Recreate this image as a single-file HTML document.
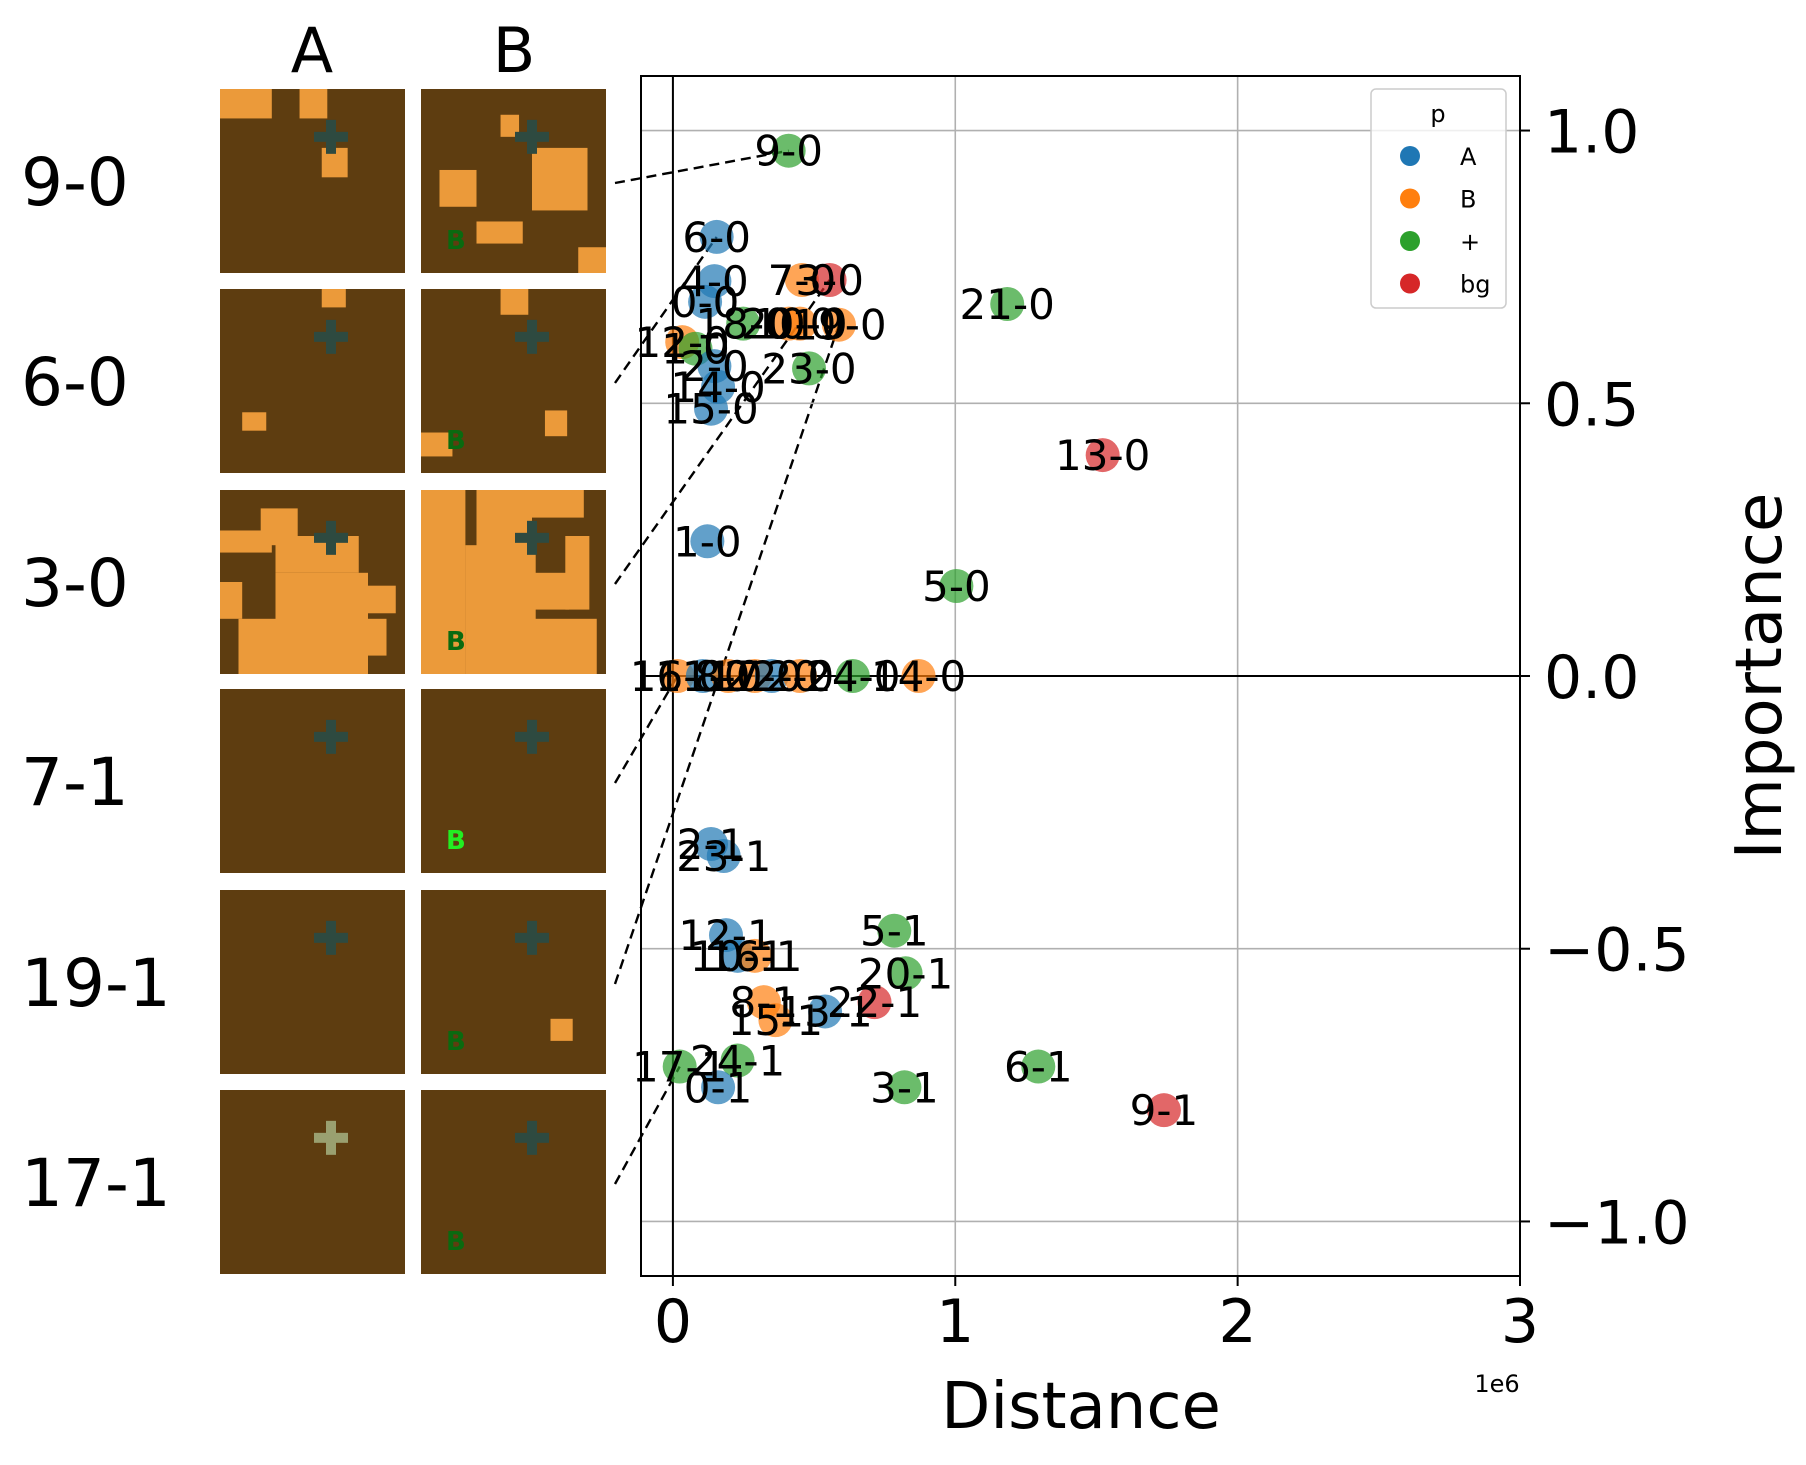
<!DOCTYPE html>
<html><head><meta charset="utf-8"><style>
body{margin:0;background:#fff;}
svg text{font-family:"DejaVu Sans","Liberation Sans",sans-serif;}
</style></head><body>
<svg id="fig" width="1806" height="1460" viewBox="0 0 1806 1460" xmlns="http://www.w3.org/2000/svg">
<rect width="1806" height="1460" fill="#fff"/>
<g id="thumbs"></g>
<g id="links"></g>
<g id="plot"></g>
</svg>
<script>
const NS="http://www.w3.org/2000/svg";
const categories=["A","B","+","bg"];
const colors=["#1f77b4","#ff7f0e","#2ca02c","#d62728"];
const labels=["9-0","6-0","4-0","7-0","3-0","0-0","18-0","20-0","10-0","19-0","21-0","12-0","1-0b","2-0","23-0","14-0","15-0","13-0","1-0","5-0","16-0","11-0","8-0","17-0","22-0","24-0","2-0b","14-0b","2-1","23-1","12-1","5-1","10-1","16-1","20-1","8-1","13-1","22-1","15-1","17-1","24-1","0-1","3-1","6-1","9-1"];
const xVals=[0.41,0.155,0.147,0.457,0.555,0.114,0.249,0.41,0.45,0.588,1.184,0.033,0.08,0.147,0.482,0.16,0.135,1.522,0.122,1.004,0.016,0.106,0.196,0.29,0.35,0.637,0.45,0.87,0.135,0.18,0.188,0.784,0.229,0.29,0.824,0.322,0.539,0.714,0.363,0.024,0.229,0.16,0.82,1.294,1.739];
const yVals=[0.963,0.805,0.724,0.726,0.726,0.686,0.646,0.646,0.646,0.644,0.682,0.612,0.60,0.568,0.564,0.53,0.49,0.405,0.247,0.165,0,0,0,0,0,0,0,0,-0.308,-0.33,-0.475,-0.467,-0.513,-0.513,-0.545,-0.598,-0.615,-0.598,-0.631,-0.716,-0.705,-0.754,-0.754,-0.716,-0.796];
const groups=[2,0,0,1,3,0,2,1,1,1,2,1,2,0,2,0,0,3,0,2,1,0,1,1,0,2,1,1,0,0,0,2,0,1,2,1,0,3,1,2,2,0,2,2,3];
const xTicks=[0,1,2,3];
const yTicks=[1.0,0.5,0.0,-0.5,-1.0];
const yTickLabels=["1.0","0.5","0.0","\u22120.5","\u22121.0"];
const rowLabels=["9-0","6-0","3-0","7-1","19-1","17-1"];
const rowTargets=["9-0","6-0","3-0","16-0","19-0","17-1"];

const L=641,R=1520,T=76,B=1276;
const xMin=-0.113,xMax=3,yMin=-1.1,yMax=1.1;
const sx=v=>L+(v-xMin)/(xMax-xMin)*(R-L);
const sy=v=>B-(v-yMin)/(yMax-yMin)*(B-T);
function mk(tag,attrs,parent){const e=document.createElementNS(NS,tag);for(const k in attrs)e.setAttribute(k,attrs[k]);parent.appendChild(e);return e;}
const plot=document.getElementById('plot');
xTicks.forEach(t=>{const l=mk('line',{x1:sx(t),x2:sx(t),y1:T,y2:B,stroke:'#b0b0b0','stroke-width':1.6},plot);
});
yTicks.forEach(t=>{const l=mk('line',{x1:L,x2:R,y1:sy(t),y2:sy(t),stroke:'#b0b0b0','stroke-width':1.6},plot);
});
let z=mk('line',{x1:sx(0),x2:sx(0),y1:T,y2:B,stroke:'#000','stroke-width':2},plot);

z=mk('line',{x1:L,x2:R,y1:sy(0),y2:sy(0),stroke:'#000','stroke-width':2},plot);

labels.forEach((lab,i)=>{const c=mk('circle',{cx:sx(xVals[i]),cy:sy(yVals[i]),r:17,fill:colors[groups[i]],'fill-opacity':0.7},plot);
});
labels.forEach((lab,i)=>{const t=mk('text',{x:sx(xVals[i]),y:sy(yVals[i])+15,'font-size':42,'text-anchor':'middle',fill:'#000'},plot);
t.textContent=lab.replace('b','');
});
const fr=mk('rect',{x:L,y:T,width:R-L,height:B-T,fill:'none',stroke:'#000','stroke-width':2},plot);

xTicks.forEach(t=>{mk('line',{x1:sx(t),x2:sx(t),y1:B,y2:B+10,stroke:'#000','stroke-width':2},plot);
const tx=mk('text',{x:sx(t),y:B+66,'font-size':60,'text-anchor':'middle'},plot);tx.textContent=t;
});
yTicks.forEach((t,i)=>{mk('line',{x1:R,x2:R+10,y1:sy(t),y2:sy(t),stroke:'#000','stroke-width':2},plot);
const tx=mk('text',{x:R+24,y:sy(t)+22,'font-size':60},plot);tx.textContent=yTickLabels[i];
});
let tt=mk('text',{x:1497,y:1392,'font-size':24,'text-anchor':'middle'},plot);tt.textContent='1e6';

tt=mk('text',{x:1081,y:1428,'font-size':64,'text-anchor':'middle'},plot);tt.textContent='Distance';

tt=mk('text',{x:0,y:0,'font-size':64,'text-anchor':'middle',transform:'translate(1781,676) rotate(-90)'},plot);tt.textContent='Importance';

const lg=mk('g',{},plot);
mk('rect',{x:1371,y:89,width:135,height:219,rx:5,fill:'#fff','fill-opacity':0.8,stroke:'#ccc','stroke-width':1.5},lg);
tt=mk('text',{x:1438,y:122,'font-size':24,'text-anchor':'middle'},lg);tt.textContent='p';

categories.forEach((c,i)=>{const y=156+i*42.5;
const d=mk('circle',{cx:1410,cy:y,r:10,fill:colors[i]},lg);
const t=mk('text',{x:1460,y:y+9,'font-size':24},lg);t.textContent=c;});

const th=document.getElementById('thumbs');
const colX=[220,421],W=185,H=184;
const rowY=[89,289,490,689,890,1090];
const patchesA=[[[0,0,.28,.16],[.43,0,.15,.16],[.55,.32,.14,.16]],[[.55,0,.13,.1],[.12,.67,.13,.1]],[[.22,.1,.2,.2],[0,.22,.28,.12],[.3,.25,.45,.2],[.3,.45,.5,.3],[0,.5,.12,.2],[.8,.52,.15,.15],[.1,.7,.7,.3],[.7,.7,.2,.2]],[],[],[]];
const patchesB=[[[.43,.14,.1,.12],[.6,.32,.3,.34],[.1,.44,.2,.2],[.3,.72,.25,.12],[.85,.86,.15,.14]],[[.43,0,.15,.14],[.67,.66,.12,.14],[0,.78,.17,.13]],[[0,0,.24,1],[.24,.3,.38,.7],[.3,0,.3,.35],[.55,.45,.25,.2],[.78,.25,.13,.4],[.6,.7,.35,.3],[.58,0,.3,.15]],[],[[.7,.7,.12,.12]],[]];
rowLabels.forEach((lab,r)=>{
 const t=mk('text',{x:21,y:rowY[r]+H/2+24,'font-size':66},th);t.textContent=lab;
 
 [0,1].forEach(c=>{const x=colX[c],y=rowY[r];
  const g=mk('g',{},th);
  mk('rect',{x:x,y:y,width:W,height:H,fill:'#5e3d10'},g);
  (c?patchesB:patchesA)[r].forEach(p=>mk('rect',{x:x+p[0]*W,y:y+p[1]*H,width:p[2]*W,height:p[3]*H,fill:'#eb9a3a'},g));
  const px=x+W*0.6,py=y+H*0.26;
  const cc=(c==0&&r==5)?'#9aa070':'#2e4a40';
  mk('rect',{x:px-17,y:py-5,width:34,height:10,fill:cc},g);mk('rect',{x:px-5,y:py-17,width:10,height:34,fill:cc},g);
  if(c==1){const b=mk('text',{x:x+25,y:y+H*0.87,'font-size':26,'font-weight':'bold',fill:r==3?'#22ee22':'#0a6a10'},g);b.textContent='B';}
 });
});
tt=mk('text',{x:312,y:72,'font-size':62,'text-anchor':'middle'},th);tt.textContent='A';

tt=mk('text',{x:514,y:72,'font-size':62,'text-anchor':'middle'},th);tt.textContent='B';

const lk=document.getElementById('links');
rowTargets.forEach((lab,r)=>{const i=labels.indexOf(lab);
 const l=mk('line',{x1:615,y1:rowY[r]+H/2+2,x2:sx(xVals[i]),y2:sy(yVals[i]),stroke:'#000','stroke-width':2.4,'stroke-dasharray':'10,6'},lk);
 });
</script>
</body></html>
